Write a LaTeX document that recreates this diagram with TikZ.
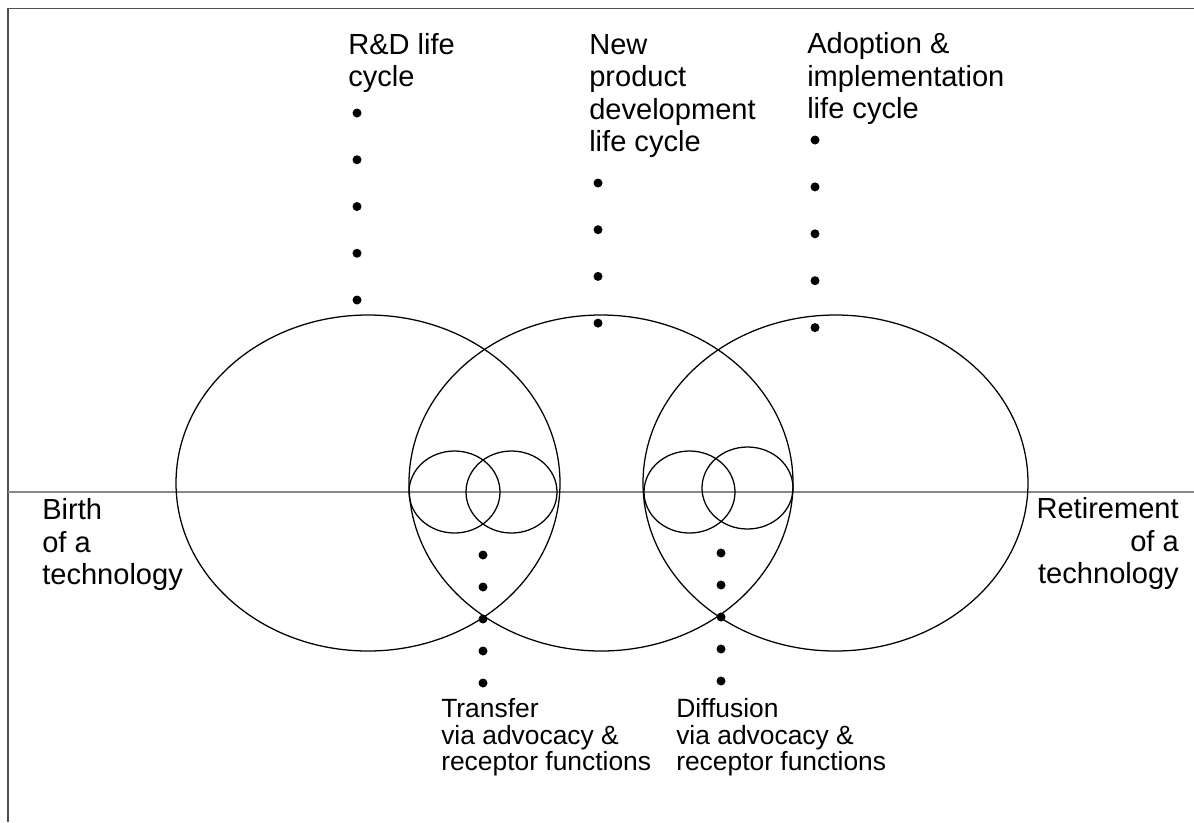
\documentclass[tikz,border=0pt]{standalone}
\usepackage{fontspec}
\setmainfont{Liberation Sans}

\begin{document}
\begin{tikzpicture}[x=0.75pt,y=0.75pt,yscale=-1,xscale=1,
    frameline/.style={color={rgb, 255:red, 80; green, 80; blue, 80 },line width=1.4pt},
    axisline/.style={color={rgb, 255:red, 136; green, 136; blue, 136 },line width=0.8pt},
    lifecycle/.style={line width=0.95pt},
    biglabel/.style={inner sep=0pt,font=\fontsize{21.8}{24.3}\selectfont},
    smalllabel/.style={inner sep=0pt,font=\fontsize{19.8}{20}\selectfont}]
                                \useasboundingbox (0,0) rectangle (1194,822);
                                \draw [frameline]  (8,822) -- (8,8.5) -- (1194,8.5) ;
                                \draw [axisline]  (8,492) -- (1194,492) ;
                                \draw [lifecycle]  (368,483) ellipse (192 and 168) ;
                                \draw [lifecycle]  (601,483) ellipse (192 and 168) ;
                                \draw [lifecycle]  (835.5,483) ellipse (192.5 and 168) ;
                                \draw [lifecycle]  (454.5,492) ellipse (45.5 and 41) ;
                                \draw [lifecycle]  (511.5,492) ellipse (45.5 and 41) ;
                                \draw [lifecycle]  (689.5,492) ellipse (45.5 and 41) ;
                                \draw [lifecycle]  (747.5,488) ellipse (45.5 and 41) ;
                                \foreach \i in {0,...,4} {\fill (357,{113+46.75*\i}) circle (4.5);}
                                \foreach \i in {0,...,3} {\fill (598,{183+46.7*\i}) circle (4.5);}
                                \foreach \i in {0,...,4} {\fill (815,{140+46.9*\i}) circle (4.5);}
                                \foreach \i in {0,...,4} {\fill (483,{555+32*\i}) circle (4.5);}
                                \foreach \i in {0,...,4} {\fill (721,{553+32*\i}) circle (4.5);}
                                \draw (348,33) node (rdcycle) [anchor=north west][biglabel] [align=left] {R\&D life\\cycle};
                                \draw (589,34) node (npdcycle) [anchor=north west][biglabel] [align=left] {New\\product\\development\\life cycle};
                                \draw (807,32.5) node (aicycle) [anchor=north west][biglabel] [align=left] {Adoption \&\\implementation\\life cycle};
                                \draw (42,498.5) node (birth) [anchor=north west][biglabel] [align=left] {Birth\\of a\\technology};
                                \draw (1179,497.5) node (retire) [anchor=north east][biglabel] [align=right] {Retirement\\of a\\technology};
                                \draw (441,698) node (transfer) [anchor=north west][smalllabel] [align=left] {Transfer\\via advocacy \&\\receptor functions};
                                \draw (676,698) node (diffusion) [anchor=north west][smalllabel] [align=left] {Diffusion\\via advocacy \&\\receptor functions};
                            \end{tikzpicture}
\end{document}
